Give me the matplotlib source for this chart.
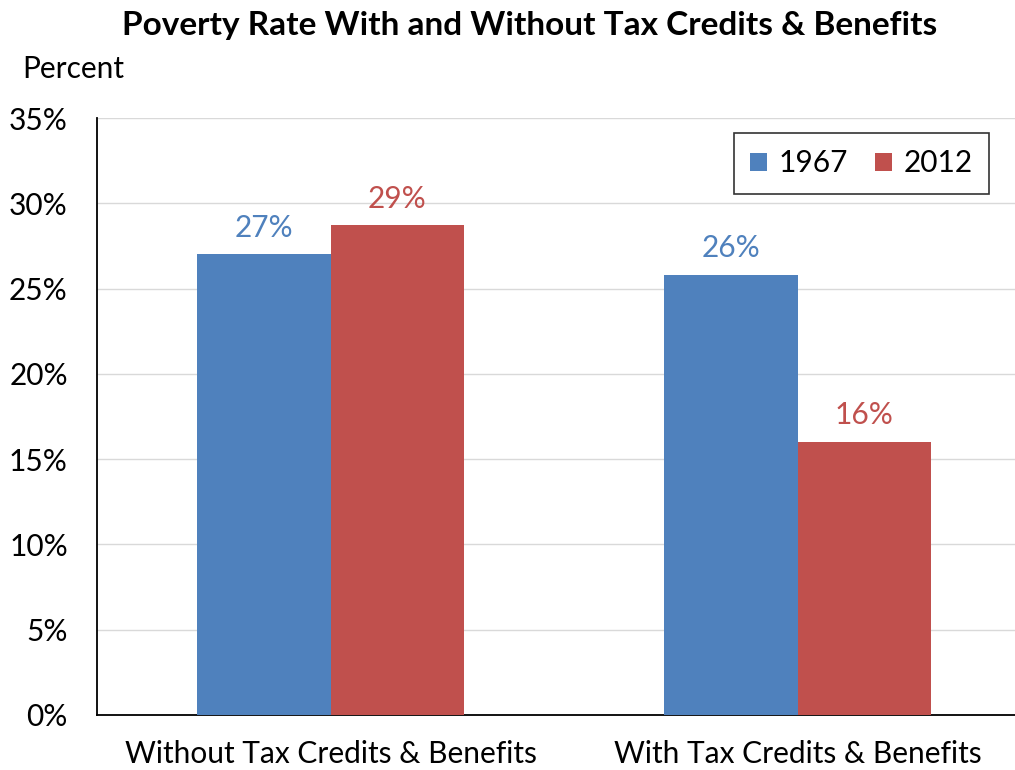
import numpy as np
import matplotlib.pyplot as plt

plt.rcParams['font.family'] = ['Lato', 'DejaVu Sans']

categories = ['Without Tax Credits & Benefits', 'With Tax Credits & Benefits']
series_names = ['1967', '2012']
rate_1967 = [27.0, 25.8]
rate_2012 = [28.7, 16.0]
label_1967 = ['27%', '26%']
label_2012 = ['29%', '16%']
yticks = [0, 5, 10, 15, 20, 25, 30, 35]

blue = '#4F81BD'
red = '#C0504D'
fs = 21.5

fig = plt.figure(figsize=(10.15, 7.7), dpi=100)
ax = fig.add_axes([97 / 1015, 55 / 770, 934 / 1015, 597 / 770])

x = np.arange(len(categories))
w = 0.286
b1 = ax.bar(x - w / 2, rate_1967, w, color=blue, label=series_names[0], zorder=3)
b2 = ax.bar(x + w / 2, rate_2012, w, color=red, label=series_names[1], zorder=3)

for rect, txt in zip(b1, label_1967):
    ax.text(rect.get_x() + rect.get_width() / 2, rect.get_height() + 0.75, txt,
            ha='center', va='bottom', color=blue, fontsize=fs)
for rect, txt in zip(b2, label_2012):
    ax.text(rect.get_x() + rect.get_width() / 2, rect.get_height() + 0.75, txt,
            ha='center', va='bottom', color=red, fontsize=fs)

ax.set_xlim(-0.5, 1.5)
ax.set_ylim(0, 35)
ax.set_yticks(yticks)
ax.set_yticklabels([f'{t}%' for t in yticks], fontsize=fs)
ax.set_xticks(x)
ax.set_xticklabels(categories, fontsize=fs)
ax.tick_params(axis='x', length=0, pad=18)
ax.tick_params(axis='y', direction='in', length=0, pad=21)
ax.grid(axis='y', color='#d9d9d9', linewidth=1, zorder=0)

for side in ['top', 'right']:
    ax.spines[side].set_visible(False)
ax.spines['left'].set_linewidth(1.3)
ax.spines['bottom'].set_linewidth(1.3)

leg = ax.legend(loc='upper right', bbox_to_anchor=(989 / 1015, 1 - 133 / 770),
                bbox_transform=fig.transFigure, ncol=2, fontsize=fs, frameon=True,
                fancybox=False, handlelength=0.55, handleheight=0.55, handletextpad=0.4,
                columnspacing=0.9, borderpad=0.55, borderaxespad=0)
leg.get_frame().set_edgecolor('black')
leg.get_frame().set_linewidth(1.2)

fig.text(0.522, 0.967, 'Poverty Rate With and Without Tax Credits & Benefits',
         ha='center', va='center', fontsize=24, fontweight='bold')
fig.text(22 / 1015, 0.911, 'Percent', ha='left', va='center', fontsize=fs)

fig.savefig('out.png', dpi=100)
